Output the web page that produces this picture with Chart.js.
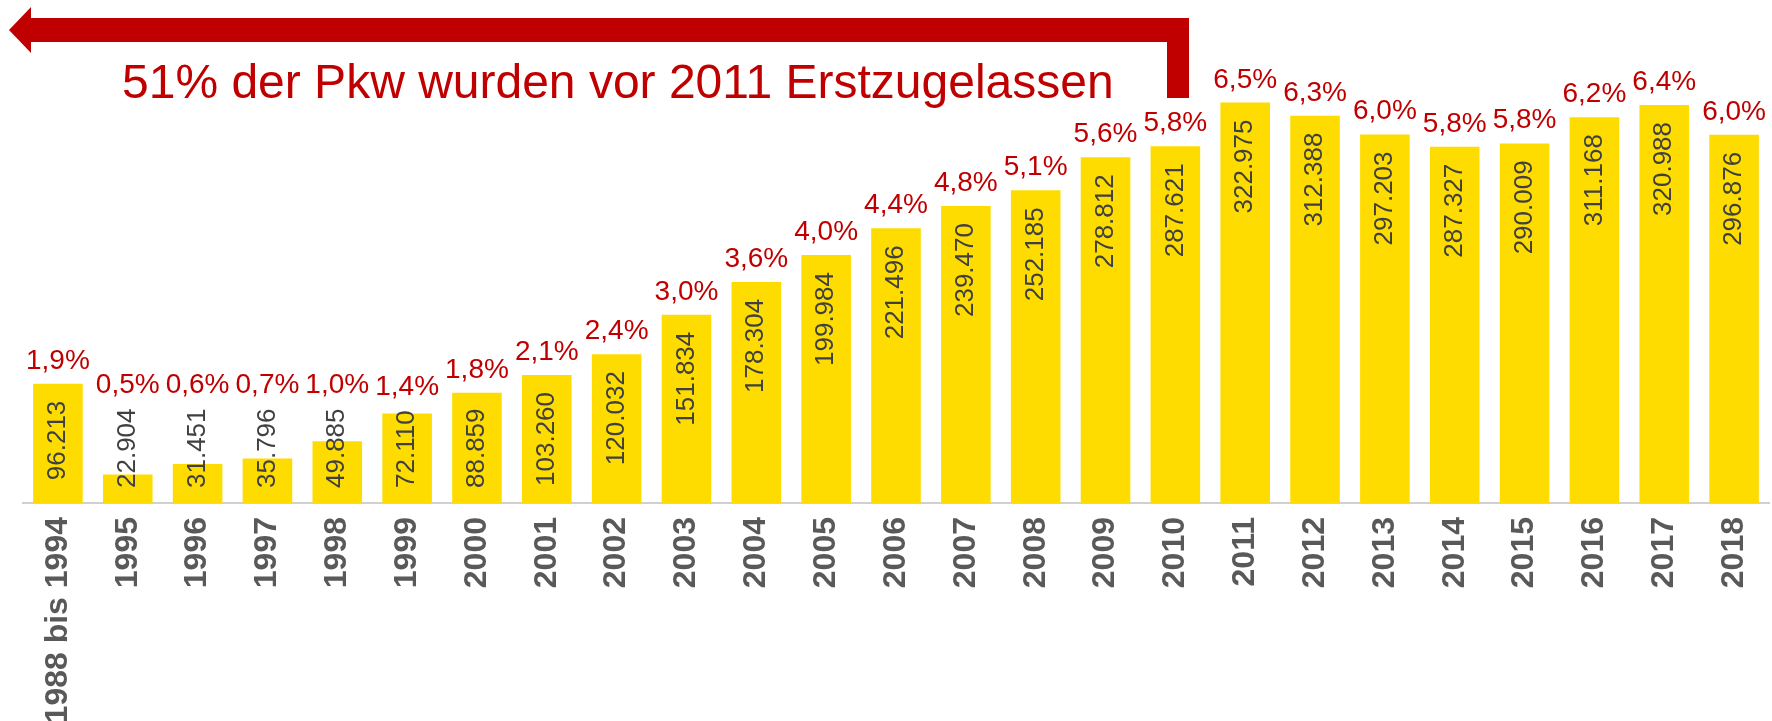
<!DOCTYPE html>
<html lang="de">
<head>
<meta charset="utf-8">
<title>Pkw nach Erstzulassungsjahr</title>
<script src="https://cdn.jsdelivr.net/npm/chart.js@4.4.1/dist/chart.umd.min.js"></script>
<style>
    body { margin: 0; background: #fff; }
    #cadre { width: 1772px; height: 721px; position: relative; }
</style>
</head>
<body>
<div id="cadre"><canvas id="graphique"></canvas></div>
<script>
const jahre = ["1988 bis 1994", "1995", "1996", "1997", "1998", "1999", "2000", "2001", "2002", "2003",
    "2004", "2005", "2006", "2007", "2008", "2009", "2010", "2011", "2012", "2013",
    "2014", "2015", "2016", "2017", "2018"];
const anzahl = [96213, 22904, 31451, 35796, 49885, 72110, 88859, 103260, 120032, 151834,
    178304, 199984, 221496, 239470, 252185, 278812, 287621, 322975, 312388, 297203,
    287327, 290009, 311168, 320988, 296876];
const anteil = ["1,9%", "0,5%", "0,6%", "0,7%", "1,0%", "1,4%", "1,8%", "2,1%", "2,4%", "3,0%",
    "3,6%", "4,0%", "4,4%", "4,8%", "5,1%", "5,6%", "5,8%", "6,5%", "6,3%", "6,0%",
    "5,8%", "5,8%", "6,2%", "6,4%", "6,0%"];
const titel = "51% der Pkw wurden vor 2011 Erstzugelassen";

const schrift = '"Liberation Sans", Arial, sans-serif';
const rot = "#c00000";

function zahl(n) {
    return n.toString().replace(/\B(?=(\d{3})+(?!\d))/g, ".");
}

// labels inside bars + percentages above
const beschriftung = {
    id: "beschriftung",
    afterDatasetsDraw(chart) {
        const ctx = chart.ctx;
        const basis = chart.scales.y.getPixelForValue(0);
        const balken = chart.getDatasetMeta(0).data;
        ctx.save();
        balken.forEach((bar, i) => {
            const text = zahl(anzahl[i]);
            ctx.font = "26px " + schrift;
            const laenge = ctx.measureText(text).width;
            const oben = Math.min(bar.y + 17, basis - 15 - laenge);

            ctx.save();
            ctx.translate(bar.x, oben);
            ctx.rotate(-Math.PI / 2);
            ctx.fillStyle = "#404040";
            ctx.textAlign = "right";
            ctx.textBaseline = "middle";
            ctx.fillText(text, 0, 0);
            ctx.restore();

            ctx.font = "28px " + schrift;
            ctx.fillStyle = rot;
            ctx.textAlign = "center";
            ctx.textBaseline = "alphabetic";
            ctx.fillText(anteil[i], bar.x, Math.min(bar.y, oben) - 15);
        });
        ctx.restore();
    }
};

// red arrow with title
const pfeil = {
    id: "pfeil",
    afterDraw(chart) {
        const ctx = chart.ctx;
        ctx.save();
        ctx.fillStyle = rot;
        ctx.beginPath();
        ctx.moveTo(9, 30);
        ctx.lineTo(31, 7);
        ctx.lineTo(31, 18);
        ctx.lineTo(1189, 18);
        ctx.lineTo(1189, 98);
        ctx.lineTo(1167, 98);
        ctx.lineTo(1167, 42);
        ctx.lineTo(31, 42);
        ctx.lineTo(31, 53);
        ctx.closePath();
        ctx.fill();

        ctx.font = "48px " + schrift;
        ctx.textAlign = "left";
        ctx.textBaseline = "alphabetic";
        ctx.fillText(titel, 122, 98);
        ctx.restore();
    }
};

new Chart(document.getElementById("graphique"), {
    type: "bar",
    data: {
        labels: jahre,
        datasets: [{
            data: anzahl,
            backgroundColor: "#ffdc00",
            barPercentage: 0.71,
            categoryPercentage: 1
        }]
    },
    options: {
        responsive: true,
        maintainAspectRatio: false,
        animation: false,
        layout: { padding: { top: 7, left: 23, right: 3, bottom: 0 } },
        plugins: {
            legend: { display: false },
            tooltip: { enabled: false }
        },
        scales: {
            y: {
                display: false,
                min: 0,
                max: 400000
            },
            x: {
                grid: { display: false },
                border: { display: true, color: "#d0d0d0", width: 2 },
                ticks: {
                    color: "#595959",
                    font: { family: schrift, size: 32, weight: "bold" },
                    minRotation: 90,
                    maxRotation: 90,
                    autoSkip: false,
                    padding: 6
                },
                afterFit(scale) {
                    scale.height = 218;
                    scale.paddingLeft = 0;
                    scale.paddingRight = 0;
                }
            }
        }
    },
    plugins: [beschriftung, pfeil]
});
</script>
</body>
</html>
